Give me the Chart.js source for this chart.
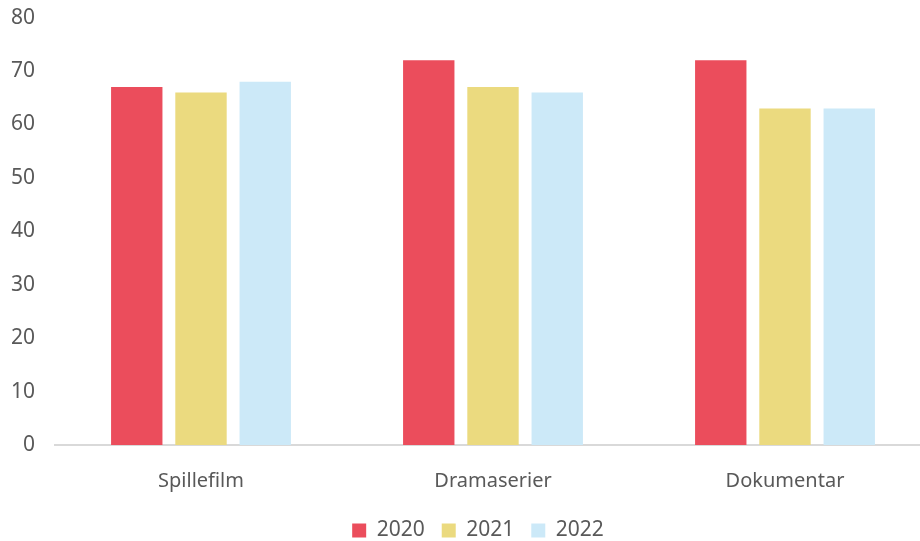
<!DOCTYPE html>
<html>
<head>
<meta charset="utf-8">
<script src="https://cdn.jsdelivr.net/npm/chart.js@4"></script>
<style>
  html, body { margin: 0; padding: 0; background: #fff; overflow: hidden; }
  #frame { position: relative; width: 920px; height: 541px; overflow: hidden; }
  #wrap { position: absolute; left: 0; top: -15px; width: 931px; height: 566px; }
</style>
</head>
<body>
<div id="frame"><div id="wrap"><canvas id="chart"></canvas></div></div>
<script>
const categories = ['Spillefilm', 'Dramaserier', 'Dokumentar'];
const years = ['2020', '2021', '2022'];
const values2020 = [67, 72, 72];
const values2021 = [66, 67, 63];
const values2022 = [68, 66, 63];
const yTicks = [0, 10, 20, 30, 40, 50, 60, 70, 80];

const colors = ['#EB4D5C', '#EBDA7F', '#CCE9F8'];
const textColor = '#595959';
const fontFamily = '"Noto Sans", "Open Sans", sans-serif';

// let the y labels draw left of the (narrow) y scale box
const yLabelRoom = {
    id: 'yLabelRoom',
    afterLayout(chart) { chart.scales.y.left = 0 }
};

var ctx = document.getElementById('chart').getContext('2d');
var data = {
    labels: categories,
    datasets: [
        { label: years[0], data: values2020, backgroundColor: colors[0] },
        { label: years[1], data: values2021, backgroundColor: colors[1] },
        { label: years[2], data: values2022, backgroundColor: colors[2] },
    ]
};

window.barChart = new Chart(ctx, {
    type: 'bar',
    data: data,
    plugins: [yLabelRoom],
    options: {
        responsive: true,
        maintainAspectRatio: false,
        animation: false,
        layout: { padding: { top: 0, right: 0, left: 25, bottom: 0 } },
        datasets: {
            bar: { categoryPercentage: 0.66, barPercentage: 0.8 }
        },
        plugins: {
            legend: {
                position: 'bottom',
                labels: {
                    boxWidth: 14,
                    boxHeight: 14,
                    padding: 17,
                    color: textColor,
                    font: { family: fontFamily, size: 21 }
                }
            },
            tooltip: { enabled: false }
        },
        scales: {
            x: {
                grid: { display: false, drawTicks: false },
                border: { display: true, color: '#D9D9D9', width: 2 },
                ticks: {
                    padding: 24,
                    color: textColor,
                    font: { family: fontFamily, size: 20 }
                },
                afterFit: function(scale) { scale.height = 58 }
            },
            y: {
                min: 0,
                max: 80,
                grid: { display: false, drawTicks: false },
                border: { display: false },
                afterBuildTicks: function(scale) {
                    scale.ticks = yTicks.map((v) => ({ value: v }))
                },
                ticks: {
                    padding: 20,
                    color: textColor,
                    font: { family: fontFamily, size: 21 }
                },
                afterFit: function(scale) { scale.width = 30 }
            }
        }
    }
});
</script>
</body>
</html>
